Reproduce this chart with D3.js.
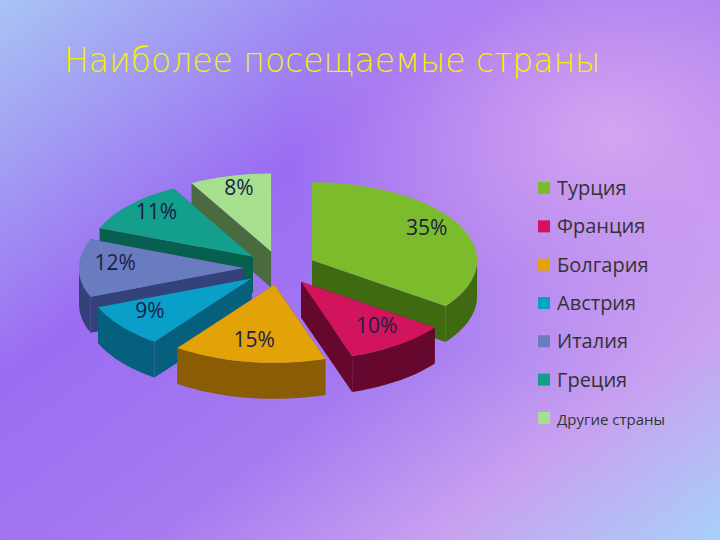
<!DOCTYPE html><html><head><meta charset="utf-8">
<script src="https://cdn.jsdelivr.net/npm/d3@7"></script>
<style>body{margin:0}svg{display:block}</style></head><body>
<svg id="c" width="720" height="540"></svg>
<script>
const categories=["Турция","Франция","Болгария","Австрия","Италия","Греция","Другие страны"];
const values=[35,10,15,9,12,11,8];
const labels=["35%","10%","15%","9%","12%","11%","8%"];
const topColors=["#7cbc2c","#d2145c","#e3a208","#0a9fc8","#6a7cc0","#139f8b","#a6e08e"];
const sideColors=["#3f6a12","#66082e","#8a5c04","#05607e","#33437a","#07604f","#4a6a40"];

const svg=d3.select("#c");
const defs=svg.append("defs");
const g1=defs.append("linearGradient").attr("id","bg").attr("x1","0").attr("y1","0").attr("x2","1").attr("y2","1");
[["0%","#a8c4f4"],["35%","#9b6cf2"],["60%","#a57af0"],["80%","#c8a0f0"],["100%","#a8d0f8"]].forEach(s=>g1.append("stop").attr("offset",s[0]).attr("stop-color",s[1]));
svg.append("rect").attr("width",720).attr("height",540).attr("fill","url(#bg)");
const g2=defs.append("radialGradient").attr("id","rg").attr("cx","0.85").attr("cy","0.25").attr("r","0.45");
g2.append("stop").attr("offset","0").attr("stop-color","#e0b0f0").attr("stop-opacity",0.8);
g2.append("stop").attr("offset","1").attr("stop-color","#e0b0f0").attr("stop-opacity",0);
svg.append("rect").attr("width",720).attr("height",540).attr("fill","url(#rg)");

svg.append("text").attr("x",64).attr("y",72).attr("fill","#f4f000")
 .style("font-family","DejaVu Sans").style("font-size","33px").style("font-weight","300")
 .text("Наиболее посещаемые страны");

const cx=280,cy=268,rx=165,ry=78,depth=36,expl=36;
const pie=d3.pie().sort(null).value(d=>d)(values);
const P=(ox,oy,a,r)=>[ox+rx*r*Math.sin(a),oy-ry*r*Math.cos(a)];
const slices=pie.map((p,i)=>{const m=(p.startAngle+p.endAngle)/2;
 return {i,p,m,ox:cx+expl*Math.sin(m),oy:cy-expl*(ry/rx)*Math.cos(m)};});
const order=slices.slice().sort((a,b)=>a.oy-b.oy);
const arcPts=(s,a0,a1,dy)=>{const n=Math.max(2,Math.ceil((a1-a0)/0.03));const pts=[];
 for(let k=0;k<=n;k++){const a=a0+(a1-a0)*k/n;const q=P(s.ox,s.oy+dy,a,1);pts.push(q);}return pts;};
const line=d3.line();
order.forEach(s=>{
 const g=svg.append("g");const {startAngle:a0,endAngle:a1}=s.p;
 [a0,a1].forEach(a=>{const e=P(s.ox,s.oy,a,1);
  g.append("path").attr("d",line([[s.ox,s.oy],e,[e[0],e[1]+depth],[s.ox,s.oy+depth]])+"Z").attr("fill",sideColors[s.i]);});
 const b0=Math.max(a0,Math.PI/2),b1=Math.min(a1,3*Math.PI/2);
 if(b1>b0){const t=arcPts(s,b0,b1,0),b=arcPts(s,b0,b1,depth).reverse();
  g.append("path").attr("d",line(t.concat(b))+"Z").attr("fill",sideColors[s.i]);}
 g.append("path").attr("d",line([[s.ox,s.oy]].concat(arcPts(s,a0,a1,0)))+"Z").attr("fill",topColors[s.i]);
});
slices.forEach(s=>{const q=P(s.ox,s.oy,s.m,0.78);
 svg.append("text").attr("x",q[0]).attr("y",q[1]+2).attr("text-anchor","middle")
 .style("font-family","Open Sans").style("font-size","21px").attr("fill","#1c1c48").text(labels[s.i]);});

const ly=d3.scalePoint().domain(categories).range([188,418]);
categories.forEach((c,i)=>{const y=ly(c);
 svg.append("rect").attr("x",538).attr("y",y-6).attr("width",12).attr("height",12).attr("fill",topColors[i]);
 svg.append("text").attr("x",557).attr("y",y+7).style("font-family","Open Sans")
  .style("font-size",i==6?"15px":"20px").attr("fill","#333").text(c);});
</script></body></html>
